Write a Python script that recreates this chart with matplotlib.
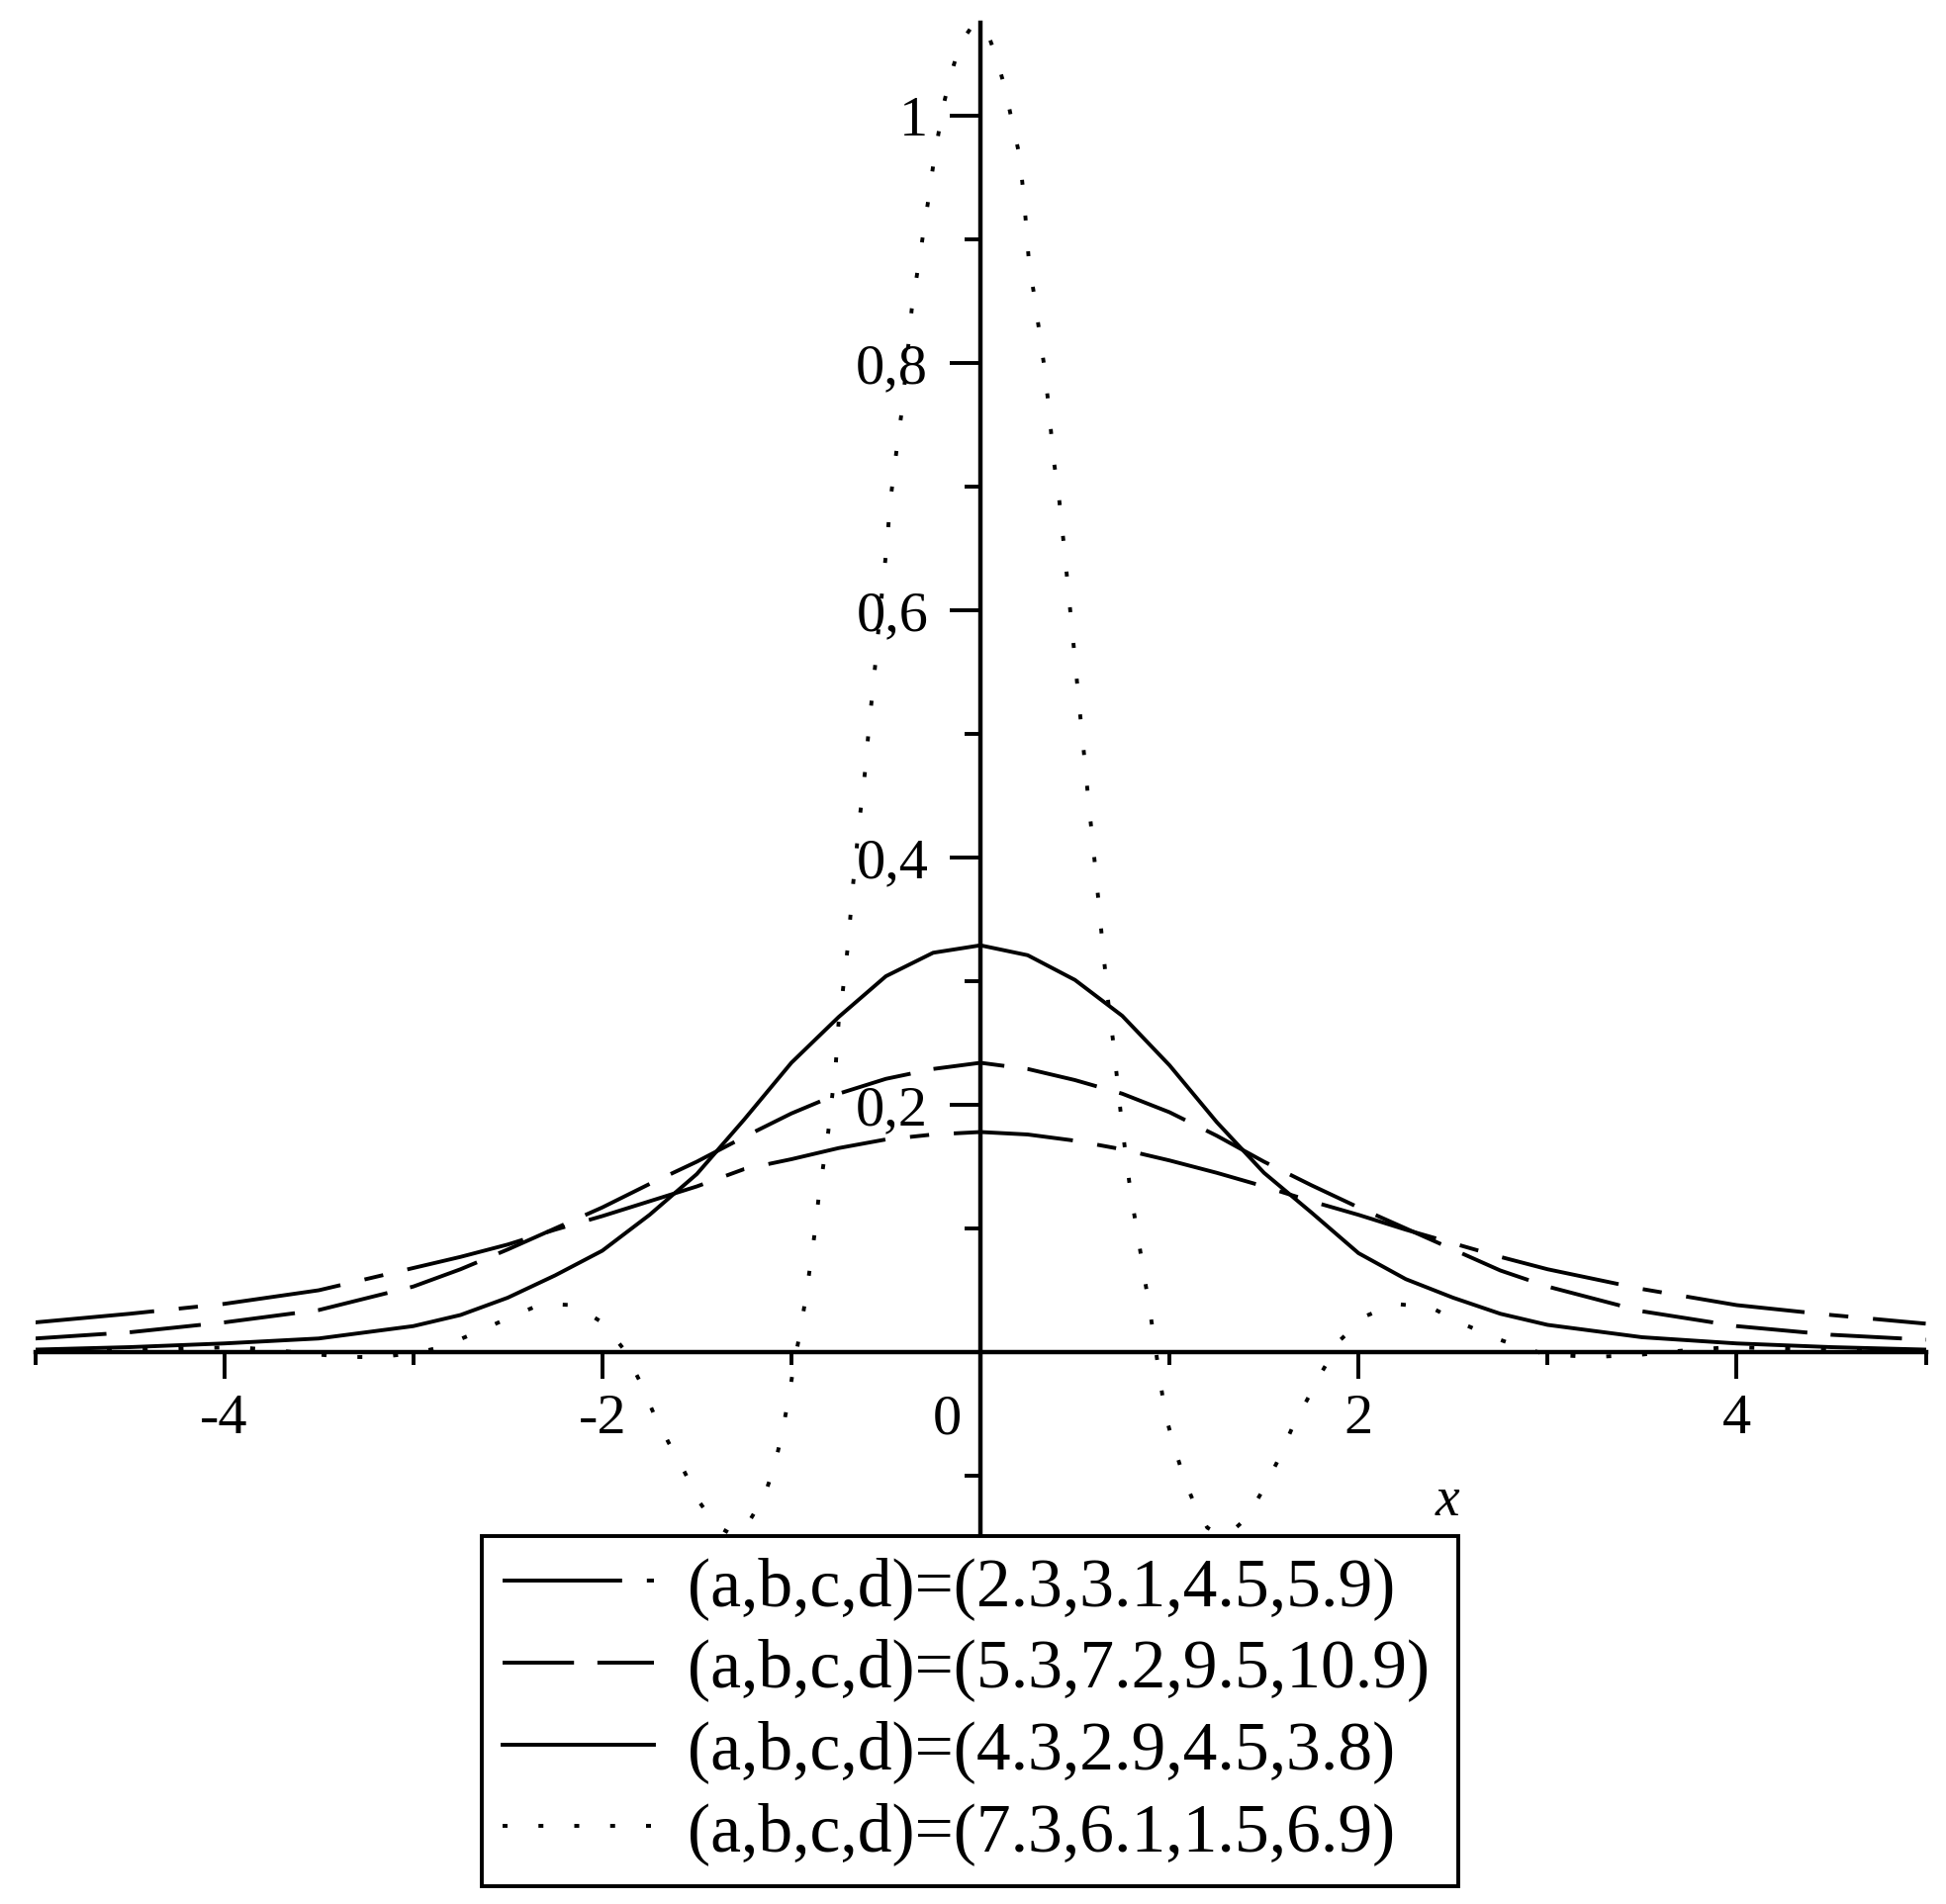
import numpy as np
import matplotlib
matplotlib.use("Agg")
from matplotlib import pyplot as plt
from matplotlib.transforms import ScaledTranslation

plt.rcParams["font.family"] = ["Liberation Serif", "DejaVu Serif"]
plt.rcParams["lines.scale_dashes"] = False

# sample positions for the three smooth curves
xs = [-5.0, -4.5, -4.0, -3.5, -3.0, -2.75, -2.5, -2.25, -2.0, -1.75, -1.5, -1.25,
      -1.0, -0.75, -0.5, -0.25, 0.0, 0.25, 0.5, 0.75, 1.0, 1.25, 1.5, 1.75,
      2.0, 2.25, 2.5, 2.75, 3.0, 3.5, 4.0, 4.5, 5.0]

# (a,b,c,d)=(2.3,3.1,4.5,5.9)  -- long dash / short dash
curve_1 = [0.024, 0.031, 0.039, 0.050, 0.068, 0.077, 0.087, 0.099, 0.110, 0.122, 0.134, 0.148,
           0.156, 0.165, 0.172, 0.176, 0.178, 0.176, 0.171, 0.164, 0.155, 0.145, 0.134, 0.122,
           0.111, 0.099, 0.088, 0.077, 0.067, 0.051, 0.038, 0.030, 0.023]

# (a,b,c,d)=(5.3,7.2,9.5,10.9)  -- dashed
curve_2 = [0.011, 0.016, 0.024, 0.034, 0.053, 0.067, 0.083, 0.100, 0.117, 0.136, 0.154, 0.174,
           0.193, 0.209, 0.221, 0.229, 0.234, 0.229, 0.220, 0.209, 0.194, 0.175, 0.154, 0.135,
           0.117, 0.100, 0.083, 0.066, 0.053, 0.033, 0.021, 0.014, 0.010]

# (a,b,c,d)=(4.3,2.9,4.5,3.8)  -- solid
curve_3 = [0.002, 0.004, 0.007, 0.011, 0.021, 0.030, 0.044, 0.062, 0.082, 0.111, 0.144, 0.188,
           0.234, 0.271, 0.304, 0.323, 0.329, 0.321, 0.301, 0.272, 0.232, 0.186, 0.145, 0.113,
           0.080, 0.059, 0.044, 0.031, 0.022, 0.012, 0.007, 0.004, 0.002]

# (a,b,c,d)=(7.3,6.1,1.5,6.9)  -- dotted, read point by point
dot_x = [-5.0, -4.6, -4.2, -3.93, -3.7, -3.5, -3.35, -3.18, -3.0, -2.85, -2.65, -2.49,
         -2.32, -2.15, -2.0, -1.89, -1.80, -1.73, -1.65, -1.565, -1.483, -1.40, -1.31, -1.235,
         -1.145, -1.09, -1.05, -1.015, -0.985, -0.955, -0.925, -0.90, -0.875, -0.855, -0.805, -0.765,
         -0.75, -0.728, -0.70, -0.675, -0.64, -0.61, -0.59, -0.56, -0.53, -0.50, -0.475, -0.44,
         -0.415, -0.39, -0.363, -0.323, -0.284, -0.245, -0.198, -0.155, -0.105, -0.05, 0.0, 0.04,
         0.078, 0.131, 0.169, 0.208, 0.232, 0.256, 0.283, 0.309, 0.335, 0.361, 0.387, 0.415,
         0.442, 0.468, 0.494, 0.52, 0.546, 0.572, 0.599, 0.625, 0.651, 0.677, 0.703, 0.727,
         0.748, 0.768, 0.787, 0.814, 0.840, 0.867, 0.896, 0.924, 0.950, 0.977, 1.026, 1.081,
         1.146, 1.20, 1.27, 1.33, 1.388, 1.44, 1.485, 1.566, 1.647, 1.73, 1.81, 1.905,
         2.035, 2.196, 2.384, 2.55, 2.73, 2.875, 3.0, 3.247, 3.5, 3.7, 3.96, 4.2,
         4.6, 5.0]
dot_y = [0.0, 0.001, 0.003, 0.004, 0.001, -0.002, -0.004, -0.004, -0.001, 0.004, 0.017, 0.028,
         0.039, 0.038, 0.024, 0.003, -0.024, -0.049, -0.073, -0.097, -0.122, -0.140, -0.148, -0.140,
         -0.117, -0.093, -0.066, -0.038, -0.009, 0.015, 0.043, 0.070, 0.098, 0.126, 0.178, 0.233,
         0.267, 0.292, 0.330, 0.376, 0.430, 0.470, 0.505, 0.550, 0.600, 0.645, 0.690, 0.734,
         0.762, 0.800, 0.844, 0.884, 0.923, 0.965, 1.007, 1.034, 1.059, 1.071, 1.074, 1.066,
         1.050, 1.022, 0.994, 0.967, 0.930, 0.883, 0.856, 0.828, 0.800, 0.765, 0.722, 0.692,
         0.652, 0.611, 0.570, 0.527, 0.487, 0.445, 0.405, 0.364, 0.322, 0.282, 0.250, 0.215,
         0.185, 0.160, 0.138, 0.111, 0.087, 0.061, 0.034, 0.005, -0.022, -0.050, -0.077, -0.104,
         -0.128, -0.142, -0.148, -0.145, -0.137, -0.126, -0.114, -0.090, -0.062, -0.038, -0.015, 0.010,
         0.029, 0.039, 0.036, 0.023, 0.011, 0.003, -0.002, -0.004, -0.002, 0.001, 0.004, 0.003,
         0.001, 0.0]

labels = ["(a,b,c,d)=(2.3,3.1,4.5,5.9)",
          "(a,b,c,d)=(5.3,7.2,9.5,10.9)",
          "(a,b,c,d)=(4.3,2.9,4.5,3.8)",
          "(a,b,c,d)=(7.3,6.1,1.5,6.9)"]

xtick_vals = [-4, -2, 0, 2, 4]
xtick_labels = ["-4", "-2", "0", "2", "4"]
ytick_vals = [0.2, 0.4, 0.6, 0.8, 1.0]
ytick_labels = ["0,2", "0,4", "0,6", "0,8", "1"]

if __name__ == "__main__":

    W, H = 1967, 1925
    fig = plt.figure(figsize=(W / 100, H / 100), dpi=100)
    fig.patch.set_facecolor("white")
    ax = fig.add_axes([35.5 / W, (H - 1553.25) / H, 1911 / W, 1530 / H])

    lw = 2.8
    h1, = ax.plot(xs, curve_1, color="black", lw=lw, linestyle=(0, (87, 18, 14, 18)), label=labels[0])
    h2, = ax.plot(xs, curve_2, color="black", lw=lw, linestyle=(0, (52, 17)), label=labels[1])
    h3, = ax.plot(xs, curve_3, color="black", lw=lw, linestyle="-", label=labels[2])
    h4, = ax.plot(dot_x, dot_y, color="black", lw=lw, linestyle=(0, (3.6, 22.5)), label=labels[3])

    ax.set_xlim([-5, 5])
    ax.set_ylim([-0.149, 1.075])

    # maple style axes crossing at the origin
    ax.spines["top"].set_visible(False)
    ax.spines["right"].set_visible(False)
    ax.spines["left"].set_position(("data", 0))
    ax.spines["bottom"].set_position(("data", 0))
    for s in ["left", "bottom"]:
        ax.spines[s].set_linewidth(3.2)
    ax.patch.set_alpha(0)

    ax.set_xticks(xtick_vals)
    ax.set_xticklabels(xtick_labels)
    ax.set_xticks([-5, -3, -1, 1, 3, 5], minor=True)
    ax.set_yticks(ytick_vals)
    ax.set_yticklabels(ytick_labels)
    ax.set_yticks([-0.1, 0.1, 0.3, 0.5, 0.7, 0.9], minor=True)

    ax.tick_params(axis="x", which="major", direction="out", length=19.5, width=2.8,
                   labelsize=42, pad=11)
    ax.tick_params(axis="x", which="minor", direction="out", length=9, width=2.8)
    ax.tick_params(axis="y", which="major", direction="out", length=22, width=2.8,
                   labelsize=42, pad=16)
    ax.tick_params(axis="y", which="minor", direction="out", length=11.5, width=2.8)

    # the "0" sits left of the vertical axis
    zero_lbl = ax.get_xticklabels()[2]
    zero_lbl.set_transform(zero_lbl.get_transform() + ScaledTranslation(-0.34, 0, fig.dpi_scale_trans))

    ax.set_xlabel("x", fontsize=40, style="italic", va="baseline")
    ax.xaxis.set_label_coords(2.47, -0.132, transform = ax.transData)

    leg = fig.legend(handles=[h1, h2, h3, h4], loc="upper left",
                     bbox_to_anchor=(487 / W, 18 / H, 987 / W, 354 / H), mode="expand",
                     fontsize=50, handlelength=2.2, handletextpad=0.5, borderpad=0.3,
                     labelspacing=0.27, borderaxespad=0, fancybox=False,
                     edgecolor="black", framealpha=1)
    leg.get_frame().set_linewidth(2.8)

    plt.savefig("out.png", dpi=100)
    plt.close()
